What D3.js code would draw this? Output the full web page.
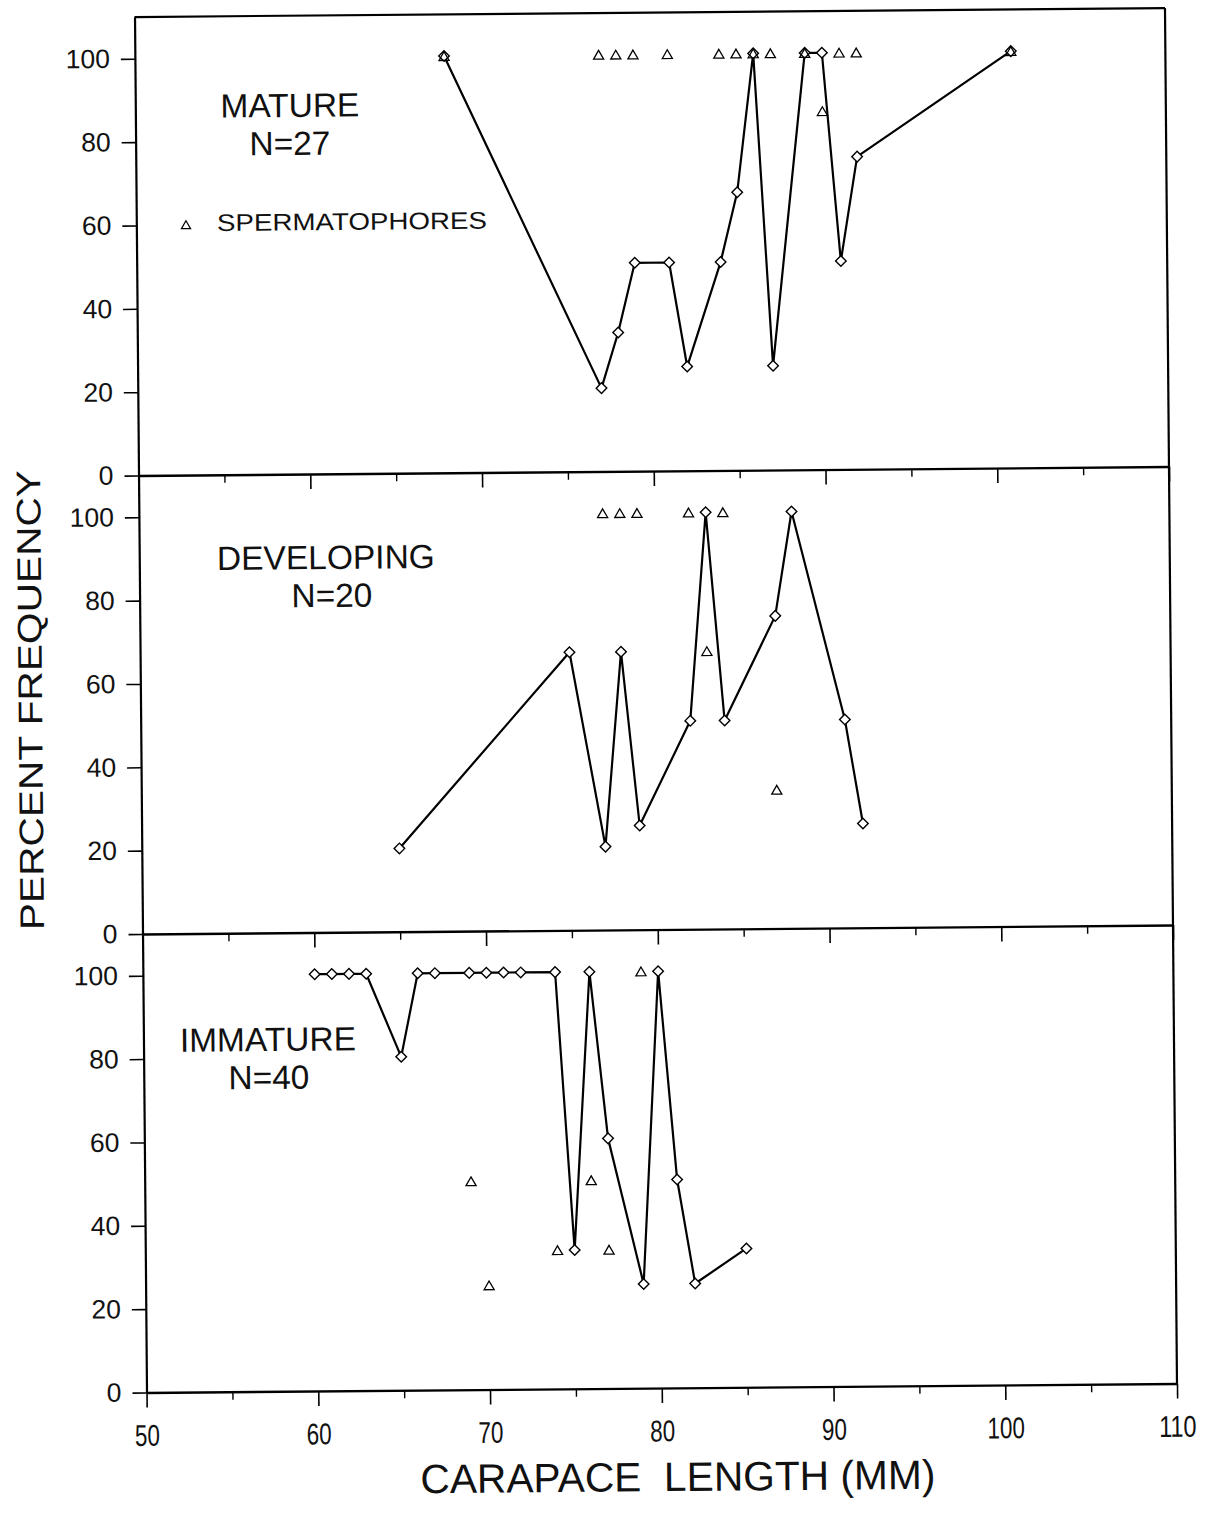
<!DOCTYPE html>
<html>
<head>
<meta charset="utf-8">
<script src="https://cdn.jsdelivr.net/npm/d3@7"></script>
<style>
  html, body { margin: 0; padding: 0; background: #fff; }
  svg { display: block; }
</style>
</head>
<body>
<svg id="chart" width="1212" height="1513"></svg>
<script>
// ---------- DATA ----------
const panelNames = ["MATURE", "DEVELOPING", "IMMATURE"];
const panelN = ["N=27", "N=20", "N=40"];

// Percent frequency (diamonds, connected line)
const matureX = [68, 77, 78, 79, 81, 82, 84, 85, 86, 87, 89, 90, 91, 92, 101];
const matureY = [100, 20, 33.3, 50, 50, 25, 50, 66.7, 100, 25, 100, 100, 50, 75, 100];

const developingX = [65, 75, 77, 78, 79, 82, 83, 84, 87, 88, 91, 92];
const developingY = [20, 66.7, 20, 66.7, 25, 50, 100, 50, 75, 100, 50, 25];

const immatureX = [60, 61, 62, 63, 65, 66, 67, 69, 70, 71, 72, 74, 75, 76, 77, 79, 80, 81, 82, 85];
const immatureY = [100, 100, 100, 100, 80, 100, 100, 100, 100, 100, 100, 100, 33.3, 100, 60, 25, 100, 50, 25, 33.3];

// Spermatophores (triangles)
const matureSpX = [68, 77, 78, 79, 81, 84, 85, 86, 87, 89, 90, 91, 92, 101];
const matureSpY = [100, 100, 100, 100, 100, 100, 100, 100, 100, 100, 86, 100, 100, 100];

const developingSpX = [77, 78, 79, 82, 83, 84, 87];
const developingSpY = [100, 100, 100, 100, 66.7, 100, 33.3];

const immatureSpX = [69, 70, 74, 76, 77, 79];
const immatureSpY = [50, 25, 33.3, 50, 33.3, 100];

const yTicks = [0, 20, 40, 60, 80, 100];
const xMajorTicks = [50, 60, 70, 80, 90, 100, 110];
const xMinorTicks = [55, 65, 75, 85, 95, 105];

const xTitle = "CARAPACE  LENGTH (MM)";
const yTitle = "PERCENT FREQUENCY";
const legendLabel = "SPERMATOPHORES";

// ---------- LAYOUT ----------
const svg = d3.select("#chart");
// the scanned original sits slightly rotated on the page
const rotDeg = -0.5, cx = 660, cy = 700;
const th = rotDeg * Math.PI / 180;
// inverse rotation: screen point -> local coordinates
function inv(sx, sy) {
  const dx = sx - cx, dy = sy - cy;
  return [cx + dx * Math.cos(-th) - dy * Math.sin(-th), cy + dx * Math.sin(-th) + dy * Math.cos(-th)];
}
const root = svg.append("g").attr("transform", `rotate(${rotDeg},${cx},${cy})`);

const left = 140.5, right = 1171;
const panelBottoms = [471, 929.5, 1388];
const panelHeight = 458.5;

const x = d3.scaleLinear().domain([50, 110]).range([left, right]);

const panels = [
  { line: d3.zip(matureX, matureY), sp: d3.zip(matureSpX, matureSpY) },
  { line: d3.zip(developingX, developingY), sp: d3.zip(developingSpX, developingSpY) },
  { line: d3.zip(immatureX, immatureY), sp: d3.zip(immatureSpX, immatureSpY) }
];

// screen positions of the panel labels (centre x, baselines)
const labelPos = [
  { cx: 290, y1: 117, cx2: 290, y2: 155 },
  { cx: 326, y1: 569, cx2: 332, y2: 607 },
  { cx: 268, y1: 1051, cx2: 269, y2: 1089 }
];

const fontMain = "'Liberation Sans', Arial, Helvetica, sans-serif";

const diamond = d3.symbol().type(d3.symbolSquare).size(56);
const triangle = d3.symbol().type(d3.symbolTriangle).size(44);

panels.forEach((p, i) => {
  const b = panelBottoms[i];
  const y = d3.scaleLinear().domain([0, 110]).range([b, b - panelHeight]);
  const g = root.append("g");

  // y axis
  const yAxis = d3.axisLeft(y).tickValues(yTicks).tickSize(14).tickSizeOuter(0).tickPadding(11).tickFormat(d3.format("d"));
  const ya = g.append("g").attr("transform", `translate(${left},0)`).call(yAxis);
  ya.select(".domain").attr("stroke-width", 2.2);
  ya.selectAll(".tick line").attr("stroke-width", 1.6);
  ya.selectAll("text").attr("font-family", fontMain).attr("font-size", 26.5).attr("fill", "#111");

  // x axis at panel bottom (ticks pointing down)
  const xa = g.append("g").attr("transform", `translate(0,${b})`)
    .call(d3.axisBottom(x).tickValues(xMajorTicks).tickSize(15).tickSizeOuter(0).tickPadding(17)
      .tickFormat(i === 2 ? d3.format("d") : () => ""));
  xa.select(".domain").attr("stroke-width", 2.4);
  xa.selectAll(".tick line").attr("stroke-width", 1.6);
  xa.selectAll("text").attr("font-family", fontMain).attr("font-size", 30).attr("fill", "#111")
    .attr("textLength", d => String(d).length * 12.5).attr("lengthAdjust", "spacingAndGlyphs");
  g.append("g").attr("transform", `translate(0,${b})`)
    .call(d3.axisBottom(x).tickValues(xMinorTicks).tickSize(8).tickFormat(() => ""))
    .call(s => s.select(".domain").remove())
    .selectAll(".tick line").attr("stroke-width", 1.4);

  // right border
  g.append("line").attr("x1", right).attr("x2", right)
    .attr("y1", b).attr("y2", b - panelHeight)
    .attr("stroke", "#000").attr("stroke-width", 2.2);
  if (i === 0) {
    g.append("line").attr("x1", left).attr("x2", right)
      .attr("y1", b - panelHeight).attr("y2", b - panelHeight)
      .attr("stroke", "#000").attr("stroke-width", 2.2);
  }

  // line
  const line = d3.line().x(d => x(d[0])).y(d => y(d[1]));
  g.append("path").datum(p.line).attr("d", line)
    .attr("fill", "none").attr("stroke", "#000").attr("stroke-width", 2.2)
    .attr("stroke-linejoin", "round");

  // diamonds
  g.selectAll(".dia").data(p.line).join("path").attr("class", "dia")
    .attr("d", diamond)
    .attr("transform", d => `translate(${x(d[0])},${y(d[1])}) rotate(45)`)
    .attr("fill", "#fff").attr("stroke", "#000").attr("stroke-width", 1.4);

  // triangles
  g.selectAll(".tri").data(p.sp).join("path").attr("class", "tri")
    .attr("d", triangle)
    .attr("transform", d => `translate(${x(d[0])},${y(d[1]) + 1.5})`)
    .attr("fill", "none").attr("stroke", "#000").attr("stroke-width", 1.3);

  // labels
  const lp = labelPos[i];
  const p1 = inv(lp.cx, lp.y1), p2 = inv(lp.cx2, lp.y2);
  g.append("text").attr("x", p1[0]).attr("y", p1[1]).attr("text-anchor", "middle")
    .attr("font-family", fontMain).attr("font-size", 33.5).attr("fill", "#111").text(panelNames[i]);
  g.append("text").attr("x", p2[0]).attr("y", p2[1]).attr("text-anchor", "middle")
    .attr("font-family", fontMain).attr("font-size", 33.5).attr("fill", "#111").text(panelN[i]);
});

// legend
const lt = inv(186, 226), lx = inv(217, 231);
root.append("path").attr("d", d3.symbol().type(d3.symbolTriangle).size(36)())
  .attr("transform", `translate(${lt[0]},${lt[1]})`)
  .attr("fill", "none").attr("stroke", "#000").attr("stroke-width", 1.2);
root.append("text").attr("x", lx[0]).attr("y", lx[1])
  .attr("font-family", fontMain).attr("font-size", 24).attr("fill", "#111")
  .attr("textLength", 270).attr("lengthAdjust", "spacingAndGlyphs")
  .text(legendLabel);

// axis titles
const xt = inv(678, 1491);
root.append("text").attr("x", xt[0]).attr("y", xt[1]).attr("text-anchor", "middle")
  .attr("font-family", fontMain).attr("font-size", 41).attr("fill", "#111")
  .style("white-space", "pre")
  .attr("textLength", 515).attr("lengthAdjust", "spacingAndGlyphs")
  .text(xTitle);

const yt = inv(42, 700);
root.append("text").attr("transform", `translate(${yt[0]},${yt[1]}) rotate(-90)`)
  .attr("text-anchor", "middle")
  .attr("font-family", fontMain).attr("font-size", 34).attr("fill", "#111")
  .attr("textLength", 460).attr("lengthAdjust", "spacingAndGlyphs")
  .text(yTitle);
</script>
</body>
</html>
